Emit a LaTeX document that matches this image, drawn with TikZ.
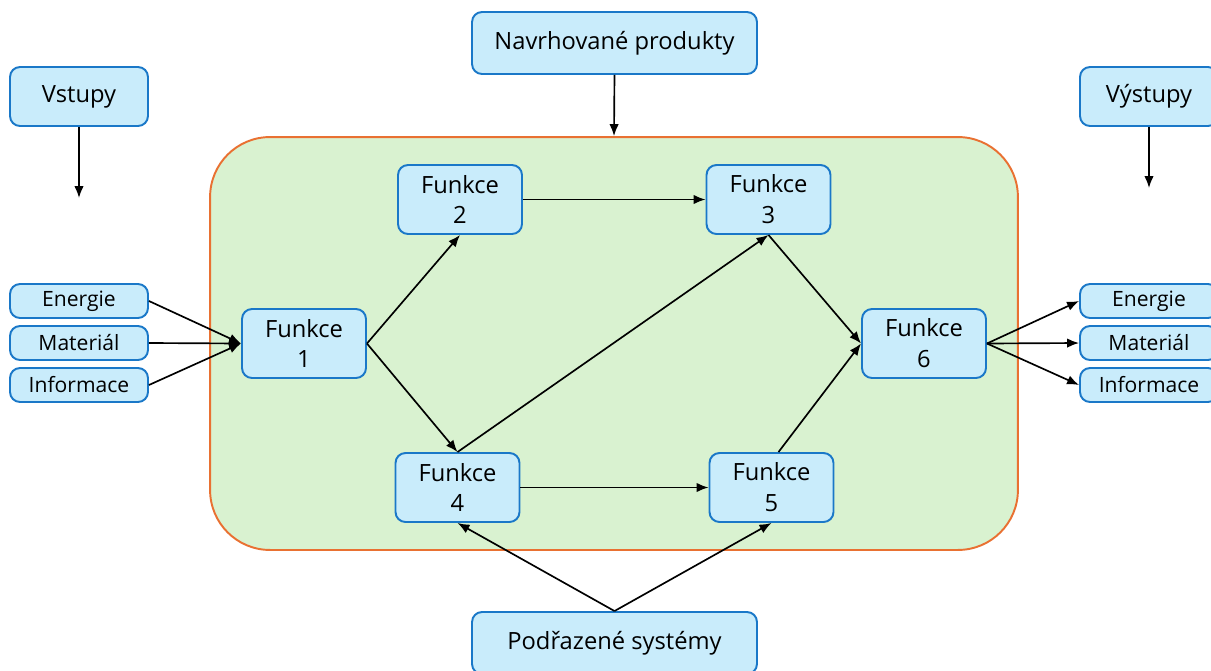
\documentclass[tikz,border=0pt]{standalone}
\usepackage{fontspec}
\setmainfont{Open Sans}
\usetikzlibrary{arrows.meta}
\definecolor{boxfill}{HTML}{C9ECFB}
\definecolor{boxline}{HTML}{1A78C8}
\definecolor{contfill}{HTML}{D9F2D0}
\definecolor{contline}{HTML}{E97132}
\tikzset{
  bx/.style={draw=boxline, fill=boxfill, line width=1.1pt, rounded corners=0.2cm, inner sep=0pt, align=center, font=\fontsize{13.5}{17.6}\selectfont},
  fbox/.style={bx, minimum width=2.48cm, minimum height=1.38cm},
  ibox/.style={bx, minimum width=2.76cm, minimum height=0.68cm, font=\fontsize{12}{14}\selectfont},
  tbox/.style={bx, minimum width=2.76cm, minimum height=1.18cm},
  wbox/.style={bx, minimum width=5.7cm, minimum height=1.24cm},
  arr/.style={-{Latex[length=0.24cm,width=0.19cm]}, line width=0.95pt, black},
}
\begin{document}
\begin{tikzpicture}[x=0.02cm, y=-0.02cm]
\useasboundingbox (0,0) rectangle (1211,670);
\clip (0,0) rectangle (1211,670);
\node[draw=contline, fill=contfill, line width=1.1pt, rounded corners=1.2cm, minimum width=16.16cm, minimum height=8.26cm, inner sep=0pt] (cont) at (614,343.5) {};
\node[wbox] (nav) at (614.5,43) {Navrhované produkty};
\node[wbox] (pod) at (614.5,643) {Podřazené systémy};
\node[tbox] (vst) at (79,96.5) {Vstupy};
\node[tbox] (vys) at (1149,96.5) {Výstupy};
\node[ibox] (le) at (79,301) {Energie};
\node[ibox] (lm) at (79,343) {Materiál};
\node[ibox] (li) at (79,385) {Informace};
\node[ibox] (re) at (1149,301) {Energie};
\node[ibox] (rm) at (1149,343) {Materiál};
\node[ibox] (ri) at (1149,385) {Informace};
\node[fbox] (f1) at (304,343.5) {Funkce\\1};
\node[fbox] (f2) at (460,199.5) {Funkce\\2};
\node[fbox] (f3) at (768.5,199.5) {Funkce\\3};
\node[fbox] (f4) at (457.5,487.5) {Funkce\\4};
\node[fbox] (f5) at (771.5,487.5) {Funkce\\5};
\node[fbox] (f6) at (924,343.5) {Funkce\\6};
\coordinate (vstend) at (79,198);
\coordinate (vysend) at (1149,188);
\draw[arr] (vst.south) -- (vstend);
\draw[arr] (vys.south) -- (vysend);
\draw[arr] (nav.south) -- (cont.north);
\draw[arr] (le.east) -- (f1.west);
\draw[arr] (lm.east) -- (f1.west);
\draw[arr] (li.east) -- (f1.west);
\draw[arr] (f1.east) -- (f2.south);
\draw[arr] (f1.east) -- (f4.north);
\draw[arr] (f2.east) -- (f3.west);
\draw[arr] (f4.north) -- (f3.south);
\draw[arr] (f3.south) -- (f6.west);
\draw[arr] (f4.east) -- (f5.west);
\draw[arr] ([xshift=0.14cm]f5.north) -- (f6.west);
\draw[arr] (f6.east) -- (re.west);
\draw[arr] (f6.east) -- (rm.west);
\draw[arr] (f6.east) -- (ri.west);
\draw[arr] (pod.north) -- (f4.south);
\draw[arr] (pod.north) -- (f5.south);
\end{tikzpicture}
\end{document}
